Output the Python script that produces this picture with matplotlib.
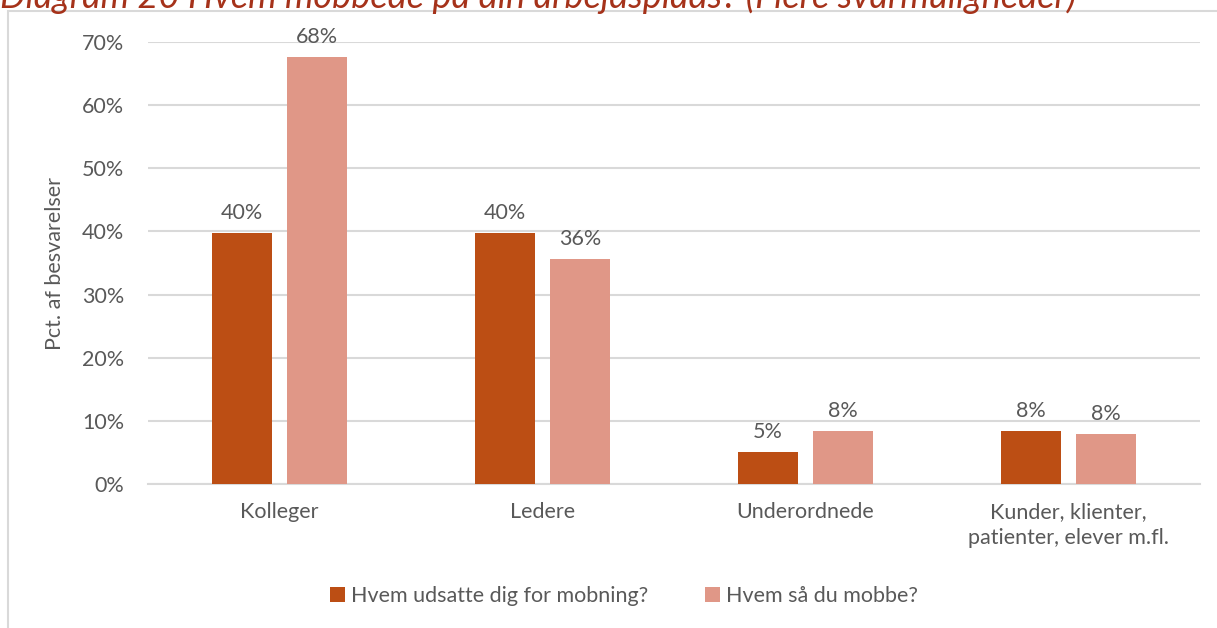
import numpy as np
import matplotlib.pyplot as plt
from matplotlib.patches import Rectangle

plt.rcParams["font.family"] = ["Lato", "DejaVu Sans"]

# data
categories = ["Kolleger", "Ledere", "Underordnede", "Kunder, klienter,\npatienter, elever m.fl."]
series_names = ["Hvem udsatte dig for mobning?", "Hvem så du mobbe?"]
udsat = [39.8, 39.8, 5.1, 8.4]
saa_mobbe = [67.7, 35.7, 8.4, 7.9]
udsat_labels = ["40%", "40%", "5%", "8%"]
saa_labels = ["68%", "36%", "8%", "8%"]
yticks = [0, 10, 20, 30, 40, 50, 60, 70]

dark = "#BC4E14"
light = "#E09787"
txt = "#595959"
grid = "#D9D9D9"
fs = 15.5

fig = plt.figure(figsize=(12.17, 6.28), dpi=100)

# chart frame (only top and left edges are visible in the crop)
fig.patches.append(Rectangle((8 / 1217, -0.2), 1.5, 1.2 - 11 / 628, transform=fig.transFigure,
                             fill=False, edgecolor=grid, linewidth=1.5))

# title, clipped by the top edge
fig.text(0.0, 1 - 8 / 628, "Diagram 20 Hvem mobbede på din arbejdsplads? (Flere svarmuligheder)",
         fontsize=26, style="italic", color="#A5321A", va="baseline", ha="left")

ax = fig.add_axes([148 / 1217, 1 - 484 / 628, 1052 / 1217, 442 / 628])

x = np.arange(len(categories))
w = 0.228
off = 0.144
b1 = ax.bar(x - off, udsat, w, color=dark, label=series_names[0], zorder=3)
b2 = ax.bar(x + off, saa_mobbe, w, color=light, label=series_names[1], zorder=3)

for bars, labels in ((b1, udsat_labels), (b2, saa_labels)):
    for rect, lab in zip(bars, labels):
        ax.annotate(lab, (rect.get_x() + rect.get_width() / 2, rect.get_height()),
                    xytext=(0, 7), textcoords="offset points", ha="center", va="bottom",
                    fontsize=fs, color=txt)

ax.set_xlim(-0.5, len(categories) - 0.5)
ax.set_ylim(0, 70)
ax.set_yticks(yticks)
ax.set_yticklabels([f"{v}%" for v in yticks])
ax.set_xticks(x)
ax.set_xticklabels(categories, linespacing=1.4)
ax.tick_params(axis="y", length=0, pad=17, labelsize=fs, labelcolor=txt)
ax.tick_params(axis="x", length=0, pad=13, labelsize=fs, labelcolor=txt)
ax.yaxis.grid(True, color=grid, linewidth=1.5, zorder=0)
for s in ("top", "right", "left"):
    ax.spines[s].set_visible(False)
ax.spines["bottom"].set_color(grid)
ax.spines["bottom"].set_linewidth(1.5)

ax.set_ylabel("Pct. af besvarelser", fontsize=fs, color=txt, labelpad=12)

fig.legend(handles=[b1, b2], loc="center", bbox_to_anchor=(624 / 1217, 1 - 596 / 628),
           ncol=2, frameon=False, fontsize=fs, labelcolor=txt, handlelength=0.7,
           handleheight=0.7, handletextpad=0.3, columnspacing=2.6)

fig.savefig("out.png", dpi=100)
plt.close()
